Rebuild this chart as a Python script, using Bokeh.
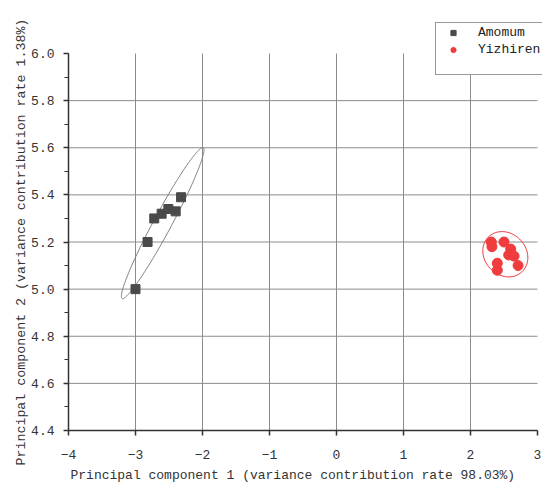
import numpy as np
from bokeh.plotting import figure
from bokeh.models import (ColumnDataSource, Legend, LegendItem, Title,
                          SingleIntervalTicker, PrintfTickFormatter)
from bokeh.embed import file_html
from bokeh.resources import INLINE

# ---- data ----
amomum_x = [-3.00, -2.82, -2.72, -2.61, -2.51, -2.40, -2.32]
amomum_y = [5.00, 5.20, 5.30, 5.32, 5.34, 5.33, 5.39]
yizhiren_x = [2.31, 2.32, 2.50, 2.60, 2.57, 2.65, 2.40, 2.40, 2.71]
yizhiren_y = [5.20, 5.18, 5.20, 5.17, 5.145, 5.14, 5.11, 5.08, 5.10]

# confidence ellipses: center, semi-axis vectors (data units)
amomum_ell_center = (-2.595, 5.28)
amomum_ell_a = (0.605, 0.32)
amomum_ell_b = (0.118, -0.018)
yizhiren_ell_center = (2.52, 5.148)
yizhiren_ell_a = (0.335, -0.02)
yizhiren_ell_b = (0.02, 0.094)

x_ticks = [-4, -3, -2, -1, 0, 1, 2, 3]
y_ticks = [4.4, 4.6, 4.8, 5.0, 5.2, 5.4, 5.6, 5.8, 6.0]
x_min, x_max = -4, 3
y_min, y_max = 4.4, 6.0

x_title = "Principal component 1 (variance contribution rate 98.03%)"
y_title = "Principal component 2 (variance contribution rate 1.38%)"

FONT = "Liberation Mono"

# layout (pixels)
PLOT_W, PLOT_H = 469, 377   # axis box
LEFT, TOP, BOTTOM, RIGHT = 68, 53, 53, 5
xs_per_px = (x_max - x_min) / PLOT_W
ys_per_px = (y_max - y_min) / PLOT_H


def ellipse_pts(center, a, b, n=200):
    t = np.linspace(0, 2 * np.pi, n)
    xs = center[0] + np.cos(t) * a[0] + np.sin(t) * b[0]
    ys = center[1] + np.cos(t) * a[1] + np.sin(t) * b[1]
    return xs, ys


# frame extended up to the top edge and right edge so that the legend is not clipped
p = figure(frame_width=PLOT_W + RIGHT, frame_height=PLOT_H + TOP,
           x_range=(x_min, x_max + RIGHT * xs_per_px),
           y_range=(y_min, y_max + TOP * ys_per_px),
           output_backend="svg", toolbar_location=None,
           min_border_left=LEFT, min_border_right=0,
           min_border_top=0, min_border_bottom=BOTTOM)
p.outline_line_color = None
p.background_fill_color = "white"
p.border_fill_color = "white"
p.xgrid.visible = False
p.ygrid.visible = False

# grid lines (interior ticks only, limited to the axis box)
gx = x_ticks[1:-1]
gy = y_ticks[1:-1]
p.segment(x0=gx, y0=[y_min] * len(gx), x1=gx, y1=[y_max] * len(gx),
          line_color="#8c8c8c", line_width=1)
p.segment(x0=[x_min] * len(gy), y0=gy, x1=[x_max] * len(gy), y1=gy,
          line_color="#8c8c8c", line_width=1)

# axes
p.xaxis.ticker = SingleIntervalTicker(interval=1, num_minor_ticks=0)
p.yaxis.ticker = SingleIntervalTicker(interval=0.2, num_minor_ticks=2)
p.yaxis.formatter = PrintfTickFormatter(format="%.1f")
p.xaxis.bounds = (x_min, x_max)
p.yaxis.bounds = (y_min, y_max)
for ax in (p.xaxis, p.yaxis):
    ax.axis_line_color = "#333333"
    ax.axis_line_width = 1.5
    ax.major_tick_line_color = "#333333"
    ax.major_tick_line_width = 1.5
    ax.minor_tick_line_color = "#333333"
    ax.minor_tick_line_width = 1.2
    ax.major_tick_in = 0
    ax.major_tick_out = 5
    ax.minor_tick_in = 0
    ax.minor_tick_out = 4
    ax.major_label_text_font = FONT
    ax.major_label_text_font_size = "13px"
    ax.major_label_text_color = "#333333"
p.xaxis.major_label_standoff = 14
p.yaxis.major_label_standoff = 9

# axis titles as side titles so they can be positioned like the reference
t_x = Title(text=x_title, align="left", offset=2, standoff=8,
            text_font=FONT, text_font_size="13px", text_font_style="normal",
            text_color="#333333")
p.add_layout(t_x, "below")
t_y = Title(text=y_title, align="left", offset=-35, standoff=0,
            text_font=FONT, text_font_size="13.3px", text_font_style="normal",
            text_color="#333333")
p.add_layout(t_y, "left")

# ellipses
ex, ey = ellipse_pts(amomum_ell_center, amomum_ell_a, amomum_ell_b)
p.line(ex, ey, line_color="#7f7f7f", line_width=1)
ex2, ey2 = ellipse_pts(yizhiren_ell_center, yizhiren_ell_a, yizhiren_ell_b)
p.line(ex2, ey2, line_color="#e8242a", line_width=1)

# points
src_a = ColumnDataSource(dict(x=amomum_x, y=amomum_y))
src_y = ColumnDataSource(dict(x=yizhiren_x, y=yizhiren_y))
r_a = p.scatter("x", "y", source=src_a, marker="square", size=9,
                fill_color="#4a4a4a", line_color="#4a4a4a")
r_y = p.scatter("x", "y", source=src_y, marker="circle", size=10,
                fill_color="#f03c3c", line_color="#f03c3c")
r_blank = p.scatter([], [], marker="circle", size=1, fill_alpha=0, line_alpha=0)

legend = Legend(items=[LegendItem(label="Amomum", renderers=[r_a]),
                       LegendItem(label="Yizhiren", renderers=[r_y]),
                       LegendItem(label=" ", renderers=[r_blank])],
                location=(367, 355))
legend.label_text_font = FONT
legend.label_text_font_size = "13px"
legend.label_text_color = "#222222"
legend.padding = 2
legend.margin = 0
legend.spacing = 2
legend.label_height = 13
legend.glyph_height = 13
legend.glyph_width = 30
legend.label_standoff = 10
legend.border_line_color = "#333333"
legend.border_line_width = 1
legend.background_fill_color = "white"
legend.background_fill_alpha = 1
p.add_layout(legend, "center")

open("out.html", "w").write(file_html(p, INLINE))
